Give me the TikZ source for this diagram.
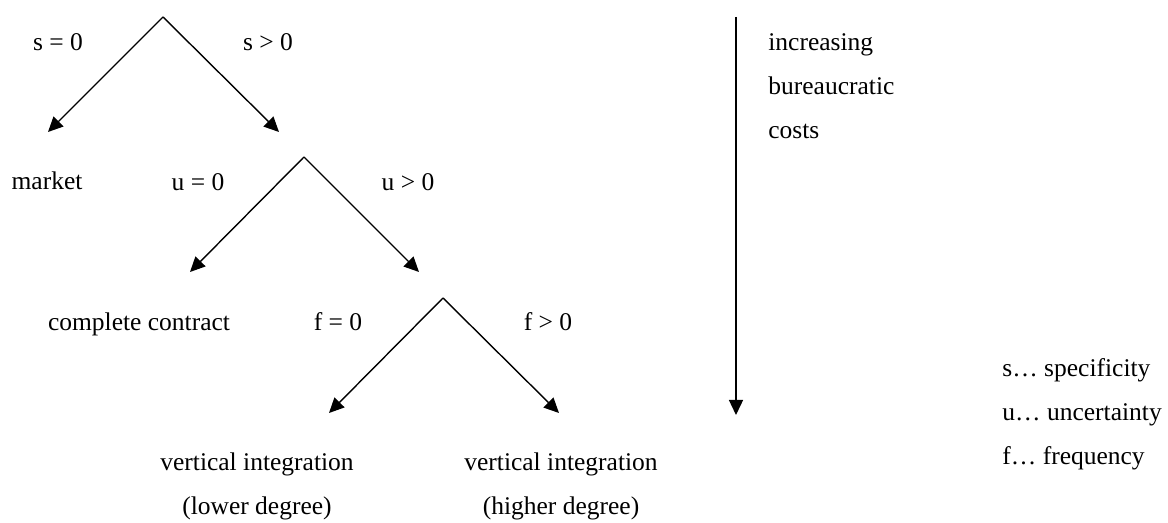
\documentclass[tikz,border=0pt]{standalone}
\usepackage{fontspec}
\setmainfont{Liberation Serif}
\usetikzlibrary{arrows.meta,positioning}

\begin{document}
\begin{tikzpicture}[
  x=0.5pt, y=-0.5pt,
  font=\fontsize{12.75}{22}\selectfont,
  lbl/.style={anchor=base, inner sep=0pt},
  txt/.style={anchor=base, inner sep=0pt, align=center},
  arrow/.style={-{Triangle[length=7.5pt, width=7pt]}, line width=0.7pt}
]
\useasboundingbox (0,0) rectangle (1168,523);

% decision points and arrow ends
\coordinate (top1) at (163,17);
\coordinate (left1) at (48,132);
\coordinate (right1) at (279,132);
\coordinate (top2) at (304,157);
\coordinate (left2) at (190,272);
\coordinate (right2) at (419,272);
\coordinate (top3) at (443,298);
\coordinate (left3) at (329,413);
\coordinate (right3) at (559,413);

\draw[arrow] (top1) -- (left1);
\draw[arrow] (top1) -- (right1);
\draw[arrow] (top2) -- (left2);
\draw[arrow] (top2) -- (right2);
\draw[arrow] (top3) -- (left3);
\draw[arrow] (top3) -- (right3);

% branch labels
\node[lbl] (s0) at (58,51) {s = 0};
\node[lbl] (s1) at (268,51) {s > 0};
\node[lbl] (u0) at (198,191) {u = 0};
\node[lbl] (u1) at (408,191) {u > 0};
\node[lbl] (f0) at (338,331) {f = 0};
\node[lbl] (f1) at (548,331) {f > 0};

% outcomes (base = last line)
\node[lbl] (market) at (47,190) {market};
\node[lbl] (contract) at (139,331) {complete contract};
\node[txt] (vilow) at (257,515) {vertical integration\\(lower degree)};
\node[txt] (vihigh) at (561,515) {vertical integration\\(higher degree)};

% costs axis
\coordinate (axtop) at (736,17);
\coordinate (axbot) at (736,415);
\draw[arrow] (axtop) -- (axbot);
\node[anchor=base west, inner sep=0pt, align=left] (costs) at (768,139) {increasing\\bureaucratic\\costs};

% legend
\node[anchor=base west, inner sep=0pt, align=left] (legend) at (1002,465) {s\ldots{} specificity\\u\ldots{} uncertainty\\f\ldots{} frequency};
\end{tikzpicture}
\end{document}
